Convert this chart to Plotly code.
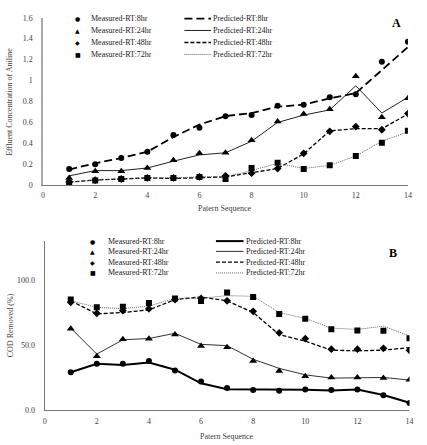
import plotly.graph_objects as go

seq = list(range(1, 15))

# Panel A: effluent aniline concentration
a_meas_8 = [0.156, 0.20, 0.26, 0.32, 0.48, 0.55, 0.66, 0.67, 0.76, 0.77, 0.84, 0.87, 1.18, 1.37]
a_pred_8 = [0.15, 0.21, 0.26, 0.32, 0.46, 0.58, 0.66, 0.69, 0.75, 0.77, 0.83, 0.88, 1.10, 1.32]
a_meas_24 = [0.07, 0.134, 0.134, 0.165, 0.24, 0.305, 0.31, 0.43, 0.61, 0.68, 0.725, 1.04, 0.65, 0.83]
a_pred_24 = [0.09, 0.14, 0.14, 0.165, 0.23, 0.29, 0.31, 0.42, 0.60, 0.67, 0.72, 0.95, 0.69, 0.84]
a_meas_48 = [0.03, 0.05, 0.06, 0.07, 0.07, 0.08, 0.09, 0.115, 0.16, 0.305, 0.515, 0.56, 0.53, 0.685]
a_pred_48 = [0.03, 0.05, 0.06, 0.07, 0.065, 0.07, 0.08, 0.12, 0.16, 0.30, 0.52, 0.54, 0.54, 0.68]
a_meas_72 = [0.02, 0.045, 0.06, 0.07, 0.07, 0.08, 0.06, 0.165, 0.215, 0.155, 0.19, 0.28, 0.405, 0.52]
a_pred_72 = [0.03, 0.05, 0.06, 0.07, 0.07, 0.08, 0.08, 0.14, 0.21, 0.16, 0.19, 0.28, 0.42, 0.51]

# Panel B: COD removed (%)
b_meas_8 = [29.0, 35.6, 35.6, 37.6, 30.3, 21.8, 16.8, 15.3, 14.8, 15.8, 15.3, 15.8, 11.3, 5.3]
b_pred_8 = [29.0, 35.5, 34.5, 36.5, 31.0, 20.5, 16.0, 16.0, 15.5, 15.5, 15.0, 15.8, 11.5, 5.5]
b_meas_24 = [62.6, 41.3, 54.4, 54.9, 58.1, 49.3, 48.3, 37.6, 30.0, 26.0, 25.0, 25.0, 24.6, 23.3]
b_pred_24 = [63.0, 43.0, 54.0, 55.0, 59.0, 50.5, 49.5, 39.0, 32.0, 27.0, 24.5, 25.0, 25.0, 23.0]
b_meas_48 = [82.9, 74.4, 76.4, 77.9, 85.0, 85.9, 84.0, 75.9, 59.4, 54.9, 46.8, 46.8, 47.4, 45.9]
b_pred_48 = [84.0, 74.0, 75.0, 77.0, 85.0, 87.0, 84.0, 75.0, 58.0, 53.0, 46.0, 45.5, 46.0, 48.0]
b_meas_72 = [85.0, 79.0, 79.4, 82.4, 85.9, 83.9, 90.5, 86.9, 73.9, 70.2, 62.1, 61.1, 60.9, 55.1]
b_pred_72 = [84.0, 79.0, 78.0, 80.0, 86.0, 86.0, 88.0, 87.5, 75.0, 70.5, 63.0, 62.0, 64.5, 57.0]

a_yticks = [0, 0.2, 0.4, 0.6, 0.8, 1.0, 1.2, 1.4, 1.6]
a_ylabels = ["0", "0.2", "0.4", "0.6", "0.8", "1", "1.2", "1.4", "1.6"]
b_yticks = [0, 50, 100]
b_ylabels = ["0.0", "50.0", "100.0"]
xticks = [0, 2, 4, 6, 8, 10, 12, 14]

meas_names = ["Measured-RT:8hr", "Measured-RT:24hr", "Measured-RT:48hr", "Measured-RT:72hr"]
pred_names = ["Predicted-RT:8hr", "Predicted-RT:24hr", "Predicted-RT:48hr", "Predicted-RT:72hr"]

FONT = "Liberation Serif"
W, H = 427, 445
symbols = ["circle", "triangle-up", "diamond", "square"]
sym_sizes = [6, 7, 6, 6]
sym_text = ["●", "▲", "◆", "■"]

a_line_styles = [
    dict(color="black", width=1.8, dash="8px,4px"),
    dict(color="#222", width=1, dash="solid"),
    dict(color="black", width=1.3, dash="4px,2px"),
    dict(color="#666", width=1, dash="1px,1px"),
]
b_line_styles = [
    dict(color="black", width=2, dash="solid"),
    dict(color="#333", width=1, dash="solid"),
    dict(color="black", width=1.3, dash="4px,2px"),
    dict(color="#666", width=1, dash="1px,1px"),
]

fig = go.Figure()

a_pred = [a_pred_8, a_pred_24, a_pred_48, a_pred_72]
a_meas = [a_meas_8, a_meas_24, a_meas_48, a_meas_72]
b_pred = [b_pred_8, b_pred_24, b_pred_48, b_pred_72]
b_meas = [b_meas_8, b_meas_24, b_meas_48, b_meas_72]

for i in range(4):
    fig.add_trace(go.Scatter(x=seq, y=a_pred[i], mode="lines", line=a_line_styles[i],
                             name=pred_names[i], xaxis="x", yaxis="y", showlegend=False))
for i in range(4):
    fig.add_trace(go.Scatter(x=seq, y=a_meas[i], mode="markers",
                             marker=dict(symbol=symbols[i], size=sym_sizes[i], color="black"),
                             name=meas_names[i], xaxis="x", yaxis="y", showlegend=False))
for i in range(4):
    fig.add_trace(go.Scatter(x=seq, y=b_pred[i], mode="lines", line=b_line_styles[i],
                             name=pred_names[i], xaxis="x2", yaxis="y2", showlegend=False))
for i in range(4):
    fig.add_trace(go.Scatter(x=seq, y=b_meas[i], mode="markers",
                             marker=dict(symbol=symbols[i], size=sym_sizes[i], color="black"),
                             name=meas_names[i], xaxis="x2", yaxis="y2", showlegend=False))

def px_x(p):
    return p / W

def px_y(p):
    return 1 - p / H

tickfont = dict(family=FONT, size=8, color="#404040")
axis_common = dict(showgrid=False, zeroline=False, showline=True, ticks="",
                   tickfont=tickfont, fixedrange=True)

layout = dict(
    width=W, height=H, margin=dict(l=0, r=0, t=0, b=0),
    paper_bgcolor="white", plot_bgcolor="white", showlegend=False,
    xaxis=dict(domain=[px_x(41.7), px_x(411.7)], range=[0, 14], tickvals=xticks,
               anchor="y", linecolor="#777", linewidth=1, ticklabelstandoff=2, **axis_common),
    yaxis=dict(domain=[px_y(185), px_y(14)], range=[0, 1.6], tickvals=a_yticks,
               ticktext=a_ylabels, anchor="x", linecolor="#aaa", linewidth=1.5,
               ticklabelstandoff=7, **axis_common),
    xaxis2=dict(domain=[px_x(43.3), px_x(413.3)], range=[0, 14], tickvals=xticks,
                anchor="y2", linecolor="#777", linewidth=1, ticklabelstandoff=3, **axis_common),
    yaxis2=dict(domain=[px_y(414.3), px_y(242)], range=[0, 130], tickvals=b_yticks,
                ticktext=b_ylabels, anchor="x2", linecolor="#777", linewidth=1,
                ticklabelstandoff=7, **axis_common),
)
fig.update_layout(**layout)

annotations = []
shapes = []
lfont = dict(family=FONT, size=8, color="#222")

def legend_block(rows_y, mx, tx, lx0, lx1, ltx, styles):
    for i, yy in enumerate(rows_y):
        annotations.append(dict(x=px_x(mx), y=px_y(yy), xref="paper", yref="paper",
                                text=sym_text[i], showarrow=False, xanchor="center",
                                yanchor="middle", font=dict(family="DejaVu Sans", size=6, color="black")))
        annotations.append(dict(x=px_x(tx), y=px_y(yy), xref="paper", yref="paper",
                                text=meas_names[i], showarrow=False, xanchor="left",
                                yanchor="middle", font=lfont))
        shapes.append(dict(type="line", xref="paper", yref="paper",
                           x0=px_x(lx0), x1=px_x(lx1), y0=px_y(yy), y1=px_y(yy),
                           line=styles[i]))
        annotations.append(dict(x=px_x(ltx), y=px_y(yy), xref="paper", yref="paper",
                                text=pred_names[i], showarrow=False, xanchor="left",
                                yanchor="middle", font=lfont))

legend_block([15, 27, 39.3, 51.5], 77, 88, 185, 212, 212, a_line_styles)
legend_block([242, 252.5, 263.5, 274.5], 92, 105, 217, 245, 245, b_line_styles)

def center_note(x, y, text, size=8, color="#404040", angle=0):
    return dict(x=px_x(x), y=px_y(y), xref="paper", yref="paper", text=text,
                showarrow=False, xanchor="center", yanchor="middle", textangle=angle,
                font=dict(family=FONT, size=size, color=color))

annotations += [
    center_note(400, 19, "<b>A</b>", size=12, color="black"),
    center_note(397, 254, "<b>B</b>", size=12, color="black"),
    center_note(226, 209, "Patern Sequence"),
    center_note(228, 441, "Patern Sequence"),
    center_note(8, 100, "Effluent Concentration of Aniline", angle=-90),
    center_note(8, 328, "COD Removed (%)", angle=-90),
]

fig.update_layout(annotations=annotations, shapes=shapes)
fig.write_html("out.html")
